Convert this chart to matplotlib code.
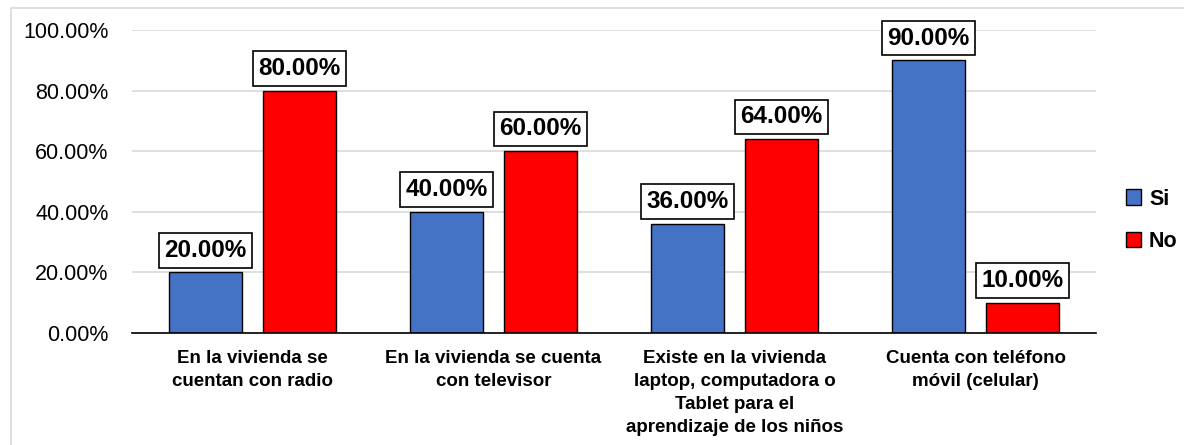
import matplotlib.pyplot as plt
import numpy as np
from matplotlib.patches import Rectangle

plt.rcParams['font.family'] = ['Liberation Sans', 'DejaVu Sans']

categories = [
    'En la vivienda se\ncuentan con radio',
    'En la vivienda se cuenta\ncon televisor',
    'Existe en la vivienda\nlaptop, computadora o\nTablet para el\naprendizaje de los niños',
    'Cuenta con teléfono\nmóvil (celular)',
]
si_values = [20.00, 40.00, 36.00, 90.00]
no_values = [80.00, 60.00, 64.00, 10.00]
y_ticks = [0, 20, 40, 60, 80, 100]

fig = plt.figure(figsize=(11.84, 4.45), dpi=100)
ax = fig.add_axes([0.1115, 0.2517, 0.8142, 0.6809])

# light frame around the chart area
fig.patches.append(Rectangle((11 / 1184, -0.01), 1.0, 1.0 - 8 / 445 + 0.01,
                             transform=fig.transFigure, fill=False,
                             edgecolor='#d9d9d9', linewidth=1.2))

x = np.arange(len(categories))
width = 0.305
offset = 0.195

bars_si = ax.bar(x - offset, si_values, width, color='#4472C4',
                 edgecolor='black', linewidth=1, label='Si', zorder=3)
bars_no = ax.bar(x + offset, no_values, width, color='#FF0000',
                 edgecolor='black', linewidth=1, label='No', zorder=3)

# boxed value labels above each bar
for bars in (bars_si, bars_no):
    for b in bars:
        h = b.get_height()
        ax.annotate(f'{h:.2f}%', (b.get_x() + b.get_width() / 2, h),
                    xytext=(0, 16), textcoords='offset points',
                    ha='center', va='center', fontsize=17.5,
                    fontweight='bold', zorder=5,
                    bbox=dict(boxstyle='square,pad=0.24', facecolor='white',
                              edgecolor='black', linewidth=1.2))

ax.set_xlim(-0.5, len(categories) - 0.5)
ax.set_ylim(0, 100)
ax.set_yticks(y_ticks)
ax.set_yticklabels([f'{v:.2f}%' for v in y_ticks], fontsize=15.5)
ax.set_xticks(x)
ax.set_xticklabels(categories, fontsize=13.5, fontweight='bold',
                   linespacing=1.47)
ax.tick_params(axis='both', length=0)
ax.tick_params(axis='x', pad=12)
ax.tick_params(axis='y', pad=17)

ax.grid(axis='y', color='#d9d9d9', linewidth=1.2, zorder=0)
for side in ('top', 'right', 'left'):
    ax.spines[side].set_visible(False)
ax.spines['bottom'].set_color('black')
ax.spines['bottom'].set_linewidth(1.2)
ax.spines['bottom'].set_zorder(4)

leg = fig.legend(handles=[bars_si, bars_no], labels=['Si', 'No'],
                 loc='center left', bbox_to_anchor=(0.935, 0.505),
                 frameon=False, handlelength=0.7, handleheight=0.7,
                 handletextpad=0.35, labelspacing=1.0,
                 prop={'size': 15.5, 'weight': 'bold'})

fig.savefig('out.png', dpi=100)
